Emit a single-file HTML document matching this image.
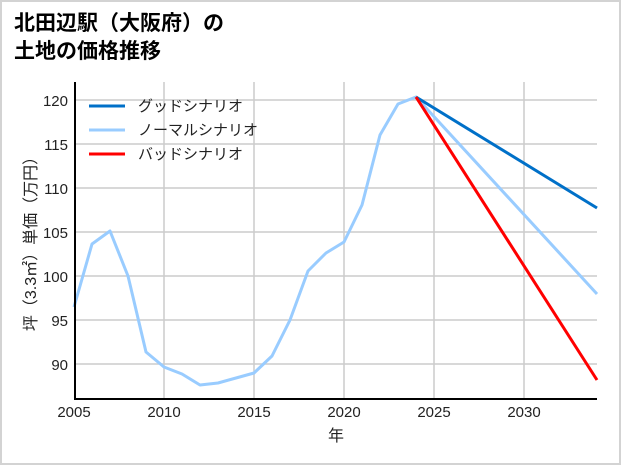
<!DOCTYPE html>
<html><head><meta charset="utf-8"><style>
body{margin:0;background:#fff;}
svg{display:block;font-family:"Liberation Sans","Noto Sans CJK JP",sans-serif;}
</style></head><body>
<svg width="621" height="465" viewBox="0 0 621 465">
<rect x="1" y="1" width="619" height="463" fill="#fff" stroke="#d3d3d3" stroke-width="2"/>
<text x="14" y="30" font-size="21" font-weight="bold" fill="#000">北田辺駅（大阪府）の</text>
<text x="14" y="58" font-size="21" font-weight="bold" fill="#000">土地の価格推移</text>
<g stroke="#cccccc" stroke-width="1.5">
<line x1="164" y1="82" x2="164" y2="399"/><line x1="254" y1="82" x2="254" y2="399"/>
<line x1="344" y1="82" x2="344" y2="399"/><line x1="434" y1="82" x2="434" y2="399"/>
<line x1="524" y1="82" x2="524" y2="399"/>
<line x1="75" y1="100" x2="597" y2="100"/><line x1="75" y1="144" x2="597" y2="144"/>
<line x1="75" y1="188" x2="597" y2="188"/><line x1="75" y1="232" x2="597" y2="232"/>
<line x1="75" y1="276" x2="597" y2="276"/><line x1="75" y1="320" x2="597" y2="320"/>
<line x1="75" y1="364" x2="597" y2="364"/>
</g>
<g font-size="15" fill="#222" text-anchor="end">
<text x="68" y="106">120</text><text x="68" y="150">115</text><text x="68" y="194">110</text>
<text x="68" y="238">105</text><text x="68" y="282">100</text><text x="68" y="326">95</text><text x="68" y="370">90</text>
</g>
<g font-size="15" fill="#222" text-anchor="middle">
<text x="74" y="417">2005</text><text x="164" y="417">2010</text><text x="254" y="417">2015</text>
<text x="344" y="417">2020</text><text x="434" y="417">2025</text><text x="524" y="417">2030</text>
<text x="336" y="441" font-size="16">年</text>
</g>
<text transform="translate(36,240) rotate(-90)" font-size="16" fill="#222" text-anchor="middle">坪（3.3㎡）単価（万円）</text>
<polyline fill="none" stroke="#99ccff" stroke-width="3" stroke-linejoin="round" points="74,307 92,244 110,231 128,276 146,352 164,367 182,374 200,385 218,383 236,378 254,373 272,356 290,320 308,271 326,253 344,242 362,205 380,135 398,104 416,97 597,294"/>
<polyline fill="none" stroke="#0070c8" stroke-width="3" points="416,97 597,208"/>
<polyline fill="none" stroke="#ff0000" stroke-width="3" points="416,97 597,380"/>
<line x1="75" y1="82" x2="75" y2="400" stroke="#000" stroke-width="2"/>
<line x1="74" y1="399" x2="597" y2="399" stroke="#000" stroke-width="2"/>
<line x1="89" y1="106" x2="125" y2="106" stroke="#0070c8" stroke-width="3"/>
<line x1="89" y1="130" x2="125" y2="130" stroke="#99ccff" stroke-width="3"/>
<line x1="89" y1="154" x2="125" y2="154" stroke="#ff0000" stroke-width="3"/>
<g font-size="15" fill="#222">
<text x="138" y="111">グッドシナリオ</text>
<text x="138" y="135">ノーマルシナリオ</text>
<text x="138" y="159">バッドシナリオ</text>
</g>
</svg>
</body></html>
